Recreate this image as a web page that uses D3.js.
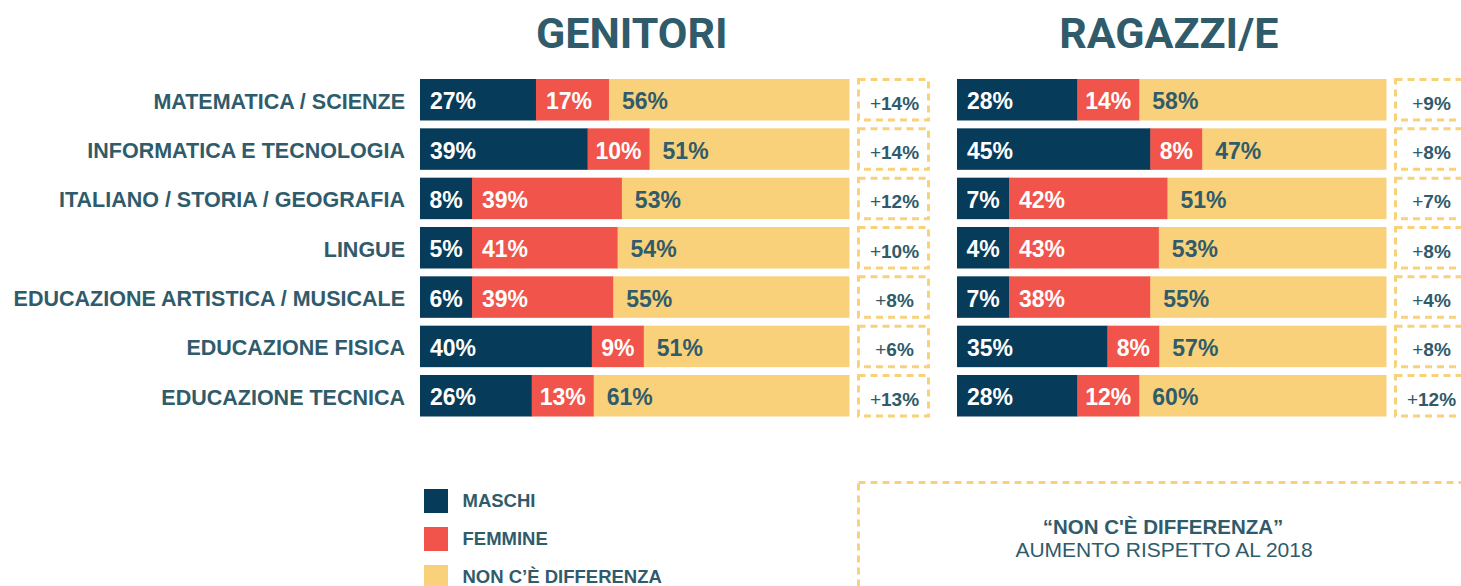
<!DOCTYPE html>
<html>
<head>
<meta charset="utf-8">
<script src="https://d3js.org/d3.v7.min.js"></script>
<style>
  body { margin: 0; background: #fff; }
  text { font-family: "Liberation Sans", Arial, sans-serif; }
  text.title { font-family: Roboto, sans-serif; }
</style>
</head>
<body>
<svg width="1461" height="586"></svg>
<script>
// data
const subjects = ["MATEMATICA / SCIENZE", "INFORMATICA E TECNOLOGIA", "ITALIANO / STORIA / GEOGRAFIA",
  "LINGUE", "EDUCAZIONE ARTISTICA / MUSICALE", "EDUCAZIONE FISICA", "EDUCAZIONE TECNICA"];
const seriesNames = ["MASCHI", "FEMMINE", "NON C\u2019È DIFFERENZA"];
const genitoriMaschi = [27, 39, 8, 5, 6, 40, 26];
const genitoriFemmine = [17, 10, 39, 41, 39, 9, 13];
const genitoriNessuna = [56, 51, 53, 54, 55, 51, 61];
const genitoriAumento = [14, 14, 12, 10, 8, 6, 13];
const ragazziMaschi = [28, 45, 7, 4, 7, 35, 28];
const ragazziFemmine = [14, 8, 42, 43, 38, 8, 12];
const ragazziNessuna = [58, 47, 51, 53, 55, 57, 60];
const ragazziAumento = [9, 8, 7, 8, 4, 8, 12];

const colors = ["#063b5a", "#f1544b", "#f8d17a"];
const textDark = "#2f5b6b";
const dash = "7,5";

const svg = d3.select("svg");

const y = d3.scaleBand().domain(subjects).range([79, 416.5]).paddingInner(0.159).paddingOuter(0);

// measure label widths so small segments still fit their label
const probe = svg.append("text").attr("font-size", 23).attr("font-weight", 700);
function textW(s) { probe.text(s); return probe.node().getComputedTextLength(); }

function panel(title, x0, boxX, m, f, n, inc) {
  const x = d3.scaleLinear().domain([0, 100]).range([x0, x0 + 429.5]);
  svg.append("text").attr("class", "title").attr("x", x(50) - 3).attr("y", 48).attr("text-anchor", "middle")
    .attr("font-size", 43).attr("font-weight", 700).attr("fill", textDark).text(title);

  const rows = subjects.map((s, i) => {
    const vals = [m[i], f[i], n[i]];
    const segs = vals.map((v, k) => ({ s, k, v, tw: textW(v + "%"), w: x(v) - x(0) }));
    // widen tiny segments; the next segment gives up the space
    for (let k = 0; k < 2; k++) {
      const min = Math.max(segs[k].tw + 16, 52);
      if (segs[k].w < min) { segs[k + 1].w -= min - segs[k].w; segs[k].w = min; }
    }
    let acc = x0;
    segs.forEach(d => { d.x = acc; acc += d.w; });
    return segs;
  });
  const g = svg.append("g");
  const segs = g.selectAll("g").data(rows).join("g").selectAll("g").data(d => d).join("g");
  segs.append("rect")
    .attr("x", d => d.x).attr("y", d => y(d.s))
    .attr("width", d => d.w + (d.k < 2 ? 0.5 : 0))
    .attr("height", y.bandwidth()).attr("fill", d => colors[d.k]);
  segs.append("text")
    .attr("x", d => d.x + (d.k === 2 ? 13 : Math.min(10, (d.w - d.tw) / 2)))
    .attr("y", d => y(d.s) + y.bandwidth() / 2 + 9.5)
    .attr("font-size", 23).attr("font-weight", 700)
    .attr("fill", d => d.k === 2 ? textDark : "#fff")
    .text(d => d.v + "%");

  const boxes = g.selectAll(".box").data(subjects).join("g").attr("class", "box");
  boxes.append("rect").attr("x", boxX).attr("y", d => y(d) + 0.5)
    .attr("width", 70).attr("height", y.bandwidth() - 1)
    .attr("fill", "none").attr("stroke", colors[2]).attr("stroke-width", 3)
    .attr("stroke-dasharray", dash);
  boxes.append("text").attr("x", boxX + 36).attr("y", d => y(d) + y.bandwidth() / 2 + 10)
    .attr("text-anchor", "middle").attr("font-size", 19).attr("fill", textDark)
    .html((d, i) => `<tspan font-weight="400">+</tspan><tspan font-weight="700">${inc[i]}%</tspan>`);
}

svg.append("g").selectAll("text").data(subjects).join("text")
  .attr("x", 405).attr("y", d => y(d) + y.bandwidth() / 2 + 9)
  .attr("text-anchor", "end").attr("font-size", 21.5).attr("font-weight", 700)
  .attr("fill", textDark).text(d => d);

panel("GENITORI", 420, 858.5, genitoriMaschi, genitoriFemmine, genitoriNessuna, genitoriAumento);
panel("RAGAZZI/E", 957, 1395.5, ragazziMaschi, ragazziFemmine, ragazziNessuna, ragazziAumento);
probe.remove();

// legend
const leg = svg.append("g").selectAll("g").data(seriesNames).join("g")
  .attr("transform", (d, i) => `translate(424, ${489 + i * 38})`);
leg.append("rect").attr("width", 24).attr("height", 24).attr("fill", (d, i) => colors[i]);
leg.append("text").attr("x", 38.5).attr("y", 18).attr("font-size", 18.5).attr("font-weight", 700)
  .attr("fill", textDark).text(d => d);

// note box
svg.append("rect").attr("x", 858.5).attr("y", 482.5).attr("width", 620).attr("height", 140)
  .attr("fill", "none").attr("stroke", colors[2]).attr("stroke-width", 3).attr("stroke-dasharray", dash);
svg.append("text").attr("x", 1163).attr("y", 534).attr("text-anchor", "middle")
  .attr("font-size", 20.5).attr("font-weight", 700).attr("fill", textDark).text("\u201CNON C'È DIFFERENZA\u201D");
svg.append("text").attr("x", 1164).attr("y", 557).attr("text-anchor", "middle")
  .attr("font-size", 21).attr("font-weight", 400).attr("fill", textDark).text("AUMENTO RISPETTO AL 2018");
</script>
</body>
</html>
